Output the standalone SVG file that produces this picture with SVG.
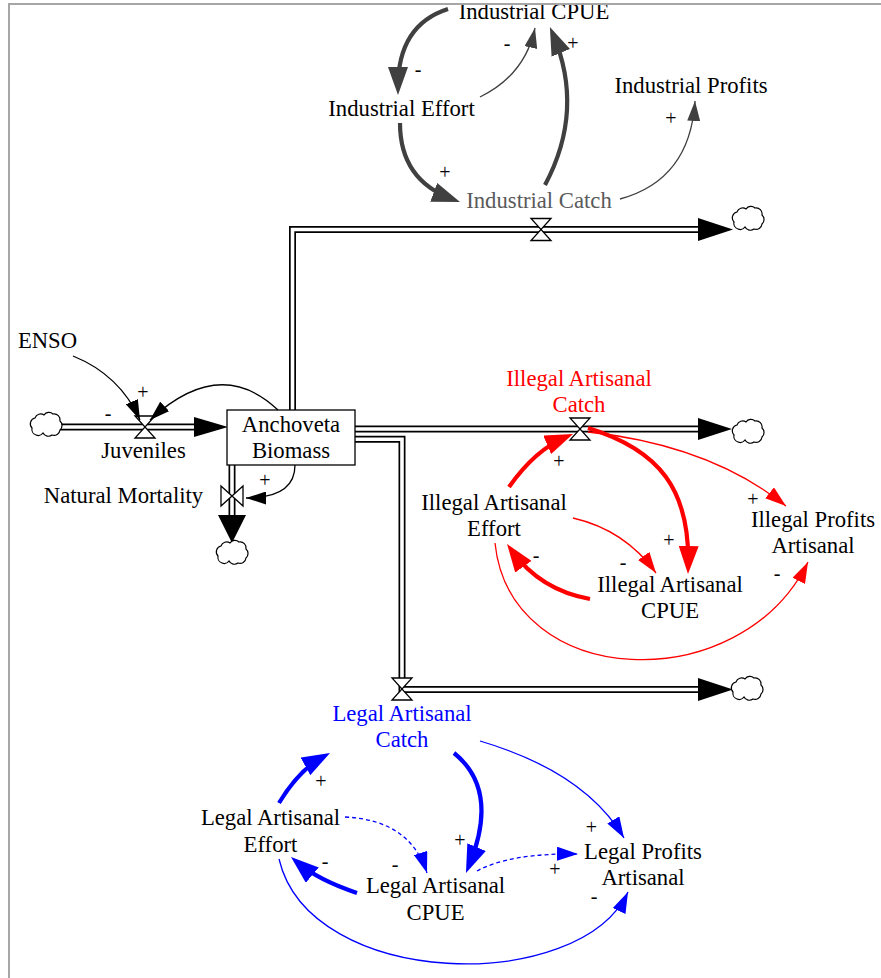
<svg xmlns="http://www.w3.org/2000/svg" width="881" height="978" viewBox="0 0 881 978">
<style>
text{font-family:"Liberation Serif","Times New Roman",serif;font-size:22.7px;fill:#000;text-anchor:middle}
text.s{font-size:20px}
.pipeO{fill:none;stroke:#000;stroke-width:7;stroke-linejoin:miter}
.pipeI{fill:none;stroke:#fff;stroke-width:3.6;stroke-linejoin:miter}
.valve{fill:#fff;stroke:#000;stroke-width:1.3;stroke-linejoin:miter}
.cloud{fill:#fff;stroke:#000;stroke-width:1.2}
.c{fill:none}
.dk{stroke:#404040}
.rd{stroke:#ff0000}
.bl{stroke:#0000ff}
.bk{stroke:#000}
.thin{stroke-width:1.3}
.thick{stroke-width:4.2}
.dash{stroke-dasharray:4,3}
</style>
<defs>
<path id="cloudShape" d="M-14,3 A6,6 0 0 1 -11,-7 A6,6 0 0 1 -2,-10 A6,6 0 0 1 7,-11 A6,6 0 0 1 14,-4 A6,6 0 0 1 14,5 A6,6 0 0 1 6,10 A6,6 0 0 1 -3,8 A6,6 0 0 1 -10,10 A6,6 0 0 1 -14,3 Z"/>
<path id="hg" d="M-10,-11 L10,-11 L-10,11 L10,11 Z"/>
<marker id="dB" viewBox="0 0 10 10" refX="7.14" refY="5" markerUnits="userSpaceOnUse" markerWidth="28" markerHeight="20" orient="auto" preserveAspectRatio="none"><path d="M0,0L10,5L0,10z" fill="#404040"/></marker>
<marker id="dS" viewBox="0 0 10 10" refX="10" refY="5" markerUnits="userSpaceOnUse" markerWidth="20" markerHeight="13" orient="auto" preserveAspectRatio="none"><path d="M0,0L10,5L0,10z" fill="#404040"/></marker>
<marker id="rB" viewBox="0 0 10 10" refX="7.14" refY="5" markerUnits="userSpaceOnUse" markerWidth="28" markerHeight="20" orient="auto" preserveAspectRatio="none"><path d="M0,0L10,5L0,10z" fill="#ff0000"/></marker>
<marker id="rS" viewBox="0 0 10 10" refX="10" refY="5" markerUnits="userSpaceOnUse" markerWidth="21" markerHeight="14" orient="auto" preserveAspectRatio="none"><path d="M0,0L10,5L0,10z" fill="#ff0000"/></marker>
<marker id="bB" viewBox="0 0 10 10" refX="7.14" refY="5" markerUnits="userSpaceOnUse" markerWidth="28" markerHeight="20" orient="auto" preserveAspectRatio="none"><path d="M0,0L10,5L0,10z" fill="#0000ff"/></marker>
<marker id="bS" viewBox="0 0 10 10" refX="10" refY="5" markerUnits="userSpaceOnUse" markerWidth="21" markerHeight="14" orient="auto" preserveAspectRatio="none"><path d="M0,0L10,5L0,10z" fill="#0000ff"/></marker>
<marker id="kS" viewBox="0 0 10 10" refX="10" refY="5" markerUnits="userSpaceOnUse" markerWidth="20" markerHeight="13" orient="auto" preserveAspectRatio="none"><path d="M0,0L10,5L0,10z" fill="#000"/></marker>
</defs>
<rect x="0" y="0" width="881" height="978" fill="#fff"/>

<g id="flows">
<path class="pipeO" d="M60,427 H200"/><path class="pipeI" d="M60,427 H200"/>
<polygon points="194,417 194,437 228,427" fill="#000"/>
<path class="pipeO" d="M232,462 V518"/><path class="pipeI" d="M232,462 V518"/>
<polygon points="218,515 246,515 232,543" fill="#000"/>
<path class="pipeO" d="M292.5,412 V229.5 H702"/><path class="pipeI" d="M292.5,412 V229.5 H702"/>
<polygon points="698,218 698,241 733,229.5" fill="#000"/>
<path class="pipeO" d="M352,429 H702"/><path class="pipeI" d="M352,429 H702"/>
<polygon points="698,418 698,440 732,429" fill="#000"/>
<path class="pipeO" d="M352,439.3 H402 V689.5 H702"/><path class="pipeI" d="M352,439.3 H402 V689.5 H702"/>
<polygon points="698,678 698,701 733,689.5" fill="#000"/>
</g>

<g id="clouds">
<use href="#cloudShape" class="cloud" x="46" y="425"/>
<use href="#cloudShape" class="cloud" x="232" y="553"/>
<use href="#cloudShape" class="cloud" x="748" y="219"/>
<use href="#cloudShape" class="cloud" x="748" y="432"/>
<use href="#cloudShape" class="cloud" x="747" y="689"/>
</g>

<g id="anchoveta-biomass">
<rect x="227" y="410" width="128" height="55" fill="#fff" stroke="#000" stroke-width="1.3"/>
<text x="291" y="432">Anchoveta</text>
<text x="291" y="458">Biomass</text>
</g>

<g id="juveniles">
<use href="#hg" class="valve" x="145" y="427"/>
<text x="143.5" y="458">Juveniles</text>
</g>
<g id="natural-mortality">
<path class="valve" d="M221,486 L221,506 L243,486 L243,506 Z"/>
<text x="123.5" y="503">Natural Mortality</text>
</g>
<g id="enso"><text x="47.5" y="348">ENSO</text></g>

<g id="industrial-catch">
<use href="#hg" class="valve" x="541" y="229.5"/>
<text x="539" y="208" style="fill:#5a5a5a">Industrial Catch</text>
</g>
<g id="industrial-cpue"><text x="534" y="19">Industrial CPUE</text></g>
<g id="industrial-effort"><text x="401.5" y="116">Industrial Effort</text></g>
<g id="industrial-profits"><text x="691" y="93">Industrial Profits</text></g>

<g id="illegal-catch">
<use href="#hg" class="valve" x="580" y="429"/>
<text x="579" y="386" style="fill:#ff0000">Illegal Artisanal</text>
<text x="579" y="412" style="fill:#ff0000">Catch</text>
</g>
<g id="illegal-effort"><text x="494" y="510">Illegal Artisanal</text><text x="494" y="536">Effort</text></g>
<g id="illegal-cpue"><text x="670" y="592">Illegal Artisanal</text><text x="670" y="618">CPUE</text></g>
<g id="illegal-profits"><text x="813" y="527">Illegal Profits</text><text x="813" y="553">Artisanal</text></g>

<g id="legal-catch">
<use href="#hg" class="valve" x="402" y="689"/>
<text x="402" y="721" style="fill:#0000ff">Legal Artisanal</text>
<text x="402" y="747" style="fill:#0000ff">Catch</text>
</g>
<g id="legal-effort"><text x="270.5" y="825">Legal Artisanal</text><text x="270.5" y="852">Effort</text></g>
<g id="legal-cpue"><text x="435.5" y="893">Legal Artisanal</text><text x="435.5" y="920">CPUE</text></g>
<g id="legal-profits"><text x="643" y="859">Legal Profits</text><text x="643" y="885">Artisanal</text></g>

<g id="connectors">
<path class="c dk thick" d="M448,9 Q398,25 398,87" marker-end="url(#dB)"/>
<path class="c dk thin" d="M480,97 Q525,75 535,28" marker-end="url(#dS)"/>
<path class="c dk thick" d="M545,185 Q585,110 553,34.4" marker-end="url(#dB)"/>
<path class="c dk thick" d="M400,123 Q400,180 452.5,199.2" marker-end="url(#dB)"/>
<path class="c dk thin" d="M620,199 Q690,180 695,101" marker-end="url(#dS)"/>
<path class="c bk thin" d="M73,356 Q120,375 140,420" marker-end="url(#kS)"/>
<path class="c bk thin" d="M278,410 Q220,355 150,420" marker-end="url(#kS)"/>
<path class="c bk thin" d="M295,465 Q295,498 246,498" marker-end="url(#kS)"/>
<path class="c rd thick" d="M509,487 Q535,450 565.6,437.1" marker-end="url(#rB)"/>
<path class="c rd thick" d="M588,428 C660,450 690,490 688.2,566" marker-end="url(#rB)"/>
<path class="c rd thin" d="M588,432 Q710,445 786,506" marker-end="url(#rS)"/>
<path class="c rd thin" d="M573,518 Q625,530 656,573" marker-end="url(#rS)"/>
<path class="c rd thick" d="M590,599 Q540,590 511.7,550.5" marker-end="url(#rB)"/>
<path class="c rd thin" d="M495,543 C510,690 740,700 808,562" marker-end="url(#rS)"/>
<path class="c bl thick" d="M279,803 Q299,770 323,756.8" marker-end="url(#bB)"/>
<path class="c bl thick" d="M454,753 Q500,790 469,865.6" marker-end="url(#bB)"/>
<path class="c bl thin" d="M480,741 Q585,772 624,838" marker-end="url(#bS)"/>
<path class="c bl thin dash" d="M345,817 Q410,820 427,873" marker-end="url(#bS)"/>
<path class="c bl thick" d="M357,893 Q318,880 297.1,862.2" marker-end="url(#bB)"/>
<path class="c bl thin dash" d="M477,871 Q510,853 578,854" marker-end="url(#bS)"/>
<path class="c bl thin" d="M279,859 C310,990 580,995 628,892" marker-end="url(#bS)"/>
</g>

<g id="polarities">
<text class="s" x="507" y="50">-</text>
<text class="s" x="418" y="76">-</text>
<text class="s" x="573" y="50">+</text>
<text class="s" x="671" y="125">+</text>
<text class="s" x="445" y="179">+</text>
<text class="s" x="143" y="399">+</text>
<text class="s" x="108" y="420">-</text>
<text class="s" x="265" y="487">+</text>
<text class="s" x="559" y="468">+</text>
<text class="s" x="669" y="547">+</text>
<text class="s" x="753" y="506">+</text>
<text class="s" x="536" y="562">-</text>
<text class="s" x="623" y="569">-</text>
<text class="s" x="777" y="580">-</text>
<text class="s" x="321" y="788">+</text>
<text class="s" x="460" y="847">+</text>
<text class="s" x="591.5" y="834">+</text>
<text class="s" x="555" y="876">+</text>
<text class="s" x="325" y="868">-</text>
<text class="s" x="395" y="871">-</text>
<text class="s" x="594" y="903">-</text>
</g>

<path d="M9,978 V4 H881" fill="none" stroke="#a6a6a6" stroke-width="2"/>
</svg>
